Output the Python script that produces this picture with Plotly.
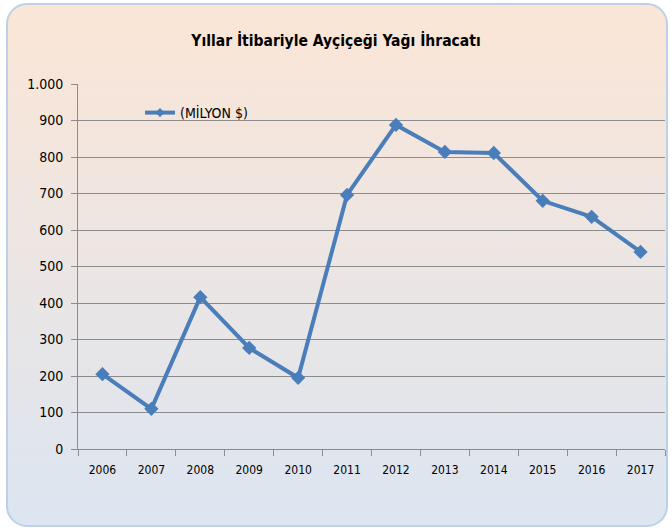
import base64
import plotly.graph_objects as go

years = ["2006", "2007", "2008", "2009", "2010", "2011", "2012", "2013", "2014", "2015", "2016", "2017"]
values = [205, 110, 416, 277, 195, 696, 888, 814, 811, 680, 636, 540]
series_name = "(MİLYON $)"
title_text = "Yıllar İtibariyle Ayçiçeği Yağı İhracatı"
y_ticks = [0, 100, 200, 300, 400, 500, 600, 700, 800, 900, 1000]

W, H = 672, 530
L, R, T, B = 78, 7, 84, 81
pw, ph = W - L - R, H - T - B

svg = f'''<svg xmlns="http://www.w3.org/2000/svg" width="{W}" height="{H}" viewBox="0 0 {W} {H}">
<defs><linearGradient id="g" x1="0" y1="0" x2="0" y2="1">
<stop offset="0" stop-color="#FBE6D6"/><stop offset="1" stop-color="#DCE5F1"/></linearGradient></defs>
<rect x="0" y="0" width="{W}" height="{H}" fill="#ffffff"/>
<rect x="7" y="4" width="{W-12}" height="{H-8}" rx="20" ry="20" fill="url(#g)" stroke="#BCD0EA" stroke-width="2"/>
</svg>'''
src = "data:image/svg+xml;base64," + base64.b64encode(svg.encode()).decode()

FONT = "DejaVu Sans Condensed, sans-serif"
BLUE = "#4A7EBB"

fig = go.Figure()
fig.add_trace(go.Scatter(
    x=years, y=values, name=series_name, mode="lines+markers", showlegend=False,
    line=dict(color=BLUE, width=4),
    marker=dict(symbol="diamond", size=11, color=BLUE),
))
# legend entry (smaller marker like the original)
fig.add_trace(go.Scatter(
    x=[None], y=[None], name=series_name, mode="lines+markers", showlegend=True,
    line=dict(color=BLUE, width=4),
    marker=dict(symbol="diamond", size=7, color=BLUE),
))

fig.update_layout(
    width=W, height=H,
    margin=dict(l=L, r=R, t=T, b=B),
    paper_bgcolor="rgba(0,0,0,0)",
    plot_bgcolor="rgba(0,0,0,0)",
    separators=",.",
    font=dict(family=FONT, color="#000000", size=13),
    title=dict(text=f"<b>{title_text}</b>", x=0.5, xanchor="center", y=1 - 41 / H, yanchor="middle",
               font=dict(family=FONT, size=15.5, color="#000000")),
    showlegend=True,
    legend=dict(x=(140 - L) / pw, y=1 - (97 - T) / ph, xanchor="left", yanchor="top",
                bgcolor="rgba(0,0,0,0)", font=dict(family=FONT, size=14)),
    xaxis=dict(type="category", range=[-0.5, 11.5], showgrid=False, showline=True,
               linecolor="#8C8C8C", linewidth=1, ticks="outside", tickson="boundaries",
               ticklen=6, tickcolor="#8C8C8C", tickfont=dict(size=12), ticklabelstandoff=10,
               zeroline=False, fixedrange=True),
    yaxis=dict(range=[0, 1000], tickvals=y_ticks, tickformat=",d", showgrid=True,
               gridcolor="#8C8C8C", gridwidth=1, showline=True, linecolor="#8C8C8C",
               ticks="outside", ticklen=6, tickcolor="#8C8C8C", tickfont=dict(size=14),
               ticklabelstandoff=5, zeroline=False, fixedrange=True),
    images=[dict(source=src, xref="paper", yref="paper",
                 x=-L / pw, y=1 + T / ph, sizex=W / pw, sizey=H / ph,
                 xanchor="left", yanchor="top", sizing="stretch", layer="below")],
)

fig.write_html("out.html", config={"displayModeBar": False},
               post_script="document.body.style.margin='0';document.body.style.overflow='hidden';")
